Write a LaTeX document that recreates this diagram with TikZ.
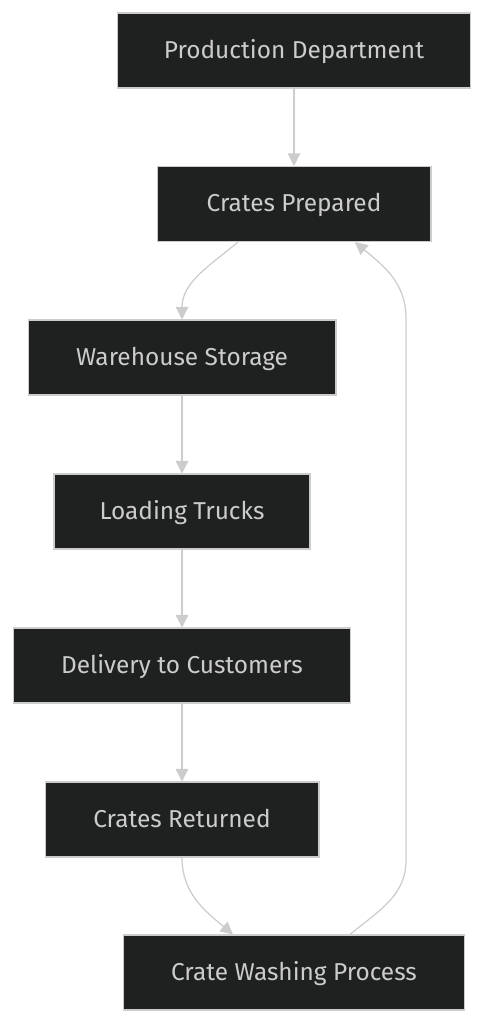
\documentclass[tikz,border=0pt]{standalone}
\usepackage{fontspec}
\setmainfont{Fira Sans}
\usepackage{tikz}
\usetikzlibrary{arrows.meta,positioning}
\definecolor{boxc}{HTML}{1F2020}
\definecolor{linec}{HTML}{CCCCCC}
\definecolor{txtc}{HTML}{CCCCCC}

\begin{document}
\begin{tikzpicture}[x=0.02cm,y=-0.02cm,
  stagebox/.style={draw=linec,fill=boxc,text=txtc,line width=0.6pt,minimum height=1.5cm,
    font=\fontsize{13.9}{16}\selectfont,inner sep=0pt,text height=1.9ex,text depth=0.2ex},
  flow/.style={draw=linec,line width=0.7pt,-{Triangle[length=0.25cm,width=0.25cm]}}]
\useasboundingbox (0,0) rectangle (484,1024);
% --- main chain ---
\node[stagebox,minimum width=7.08cm] (prod) at (294,50.5) {Production Department};
\node[stagebox,minimum width=5.48cm] (prep) at (294,204) {Crates Prepared};
\node[stagebox,minimum width=6.16cm] (store) at (182,357.5) {Warehouse Storage};
\node[stagebox,minimum width=5.12cm] (load) at (182,511.5) {Loading Trucks};
\node[stagebox,minimum width=6.76cm] (deliv) at (182,665.5) {Delivery to Customers};
\node[stagebox,minimum width=5.48cm] (ret) at (182,819.5) {Crates Returned};
\node[stagebox,minimum width=6.84cm] (wash) at (294,972.5) {Crate Washing Process};
% --- return loop waypoints ---
\coordinate (loopb) at (406,860);
\coordinate (loopt) at (406,318);
% --- connectors ---
\draw[flow] (prod) -- (prep);
\draw[flow] ([xshift=-1.12cm]prep.south) to[out=-140,in=90] (store.north);
\draw[flow] (store) -- (load);
\draw[flow] (load) -- (deliv);
\draw[flow] (deliv) -- (ret);
\draw[flow] (ret.south) to[out=-90,in=140] ([xshift=-1.22cm]wash.north);
\draw[flow] ([xshift=1.12cm]wash.north) to[out=40,in=-90] (loopb) -- (loopt)
  to[out=90,in=-40] ([xshift=1.22cm]prep.south);
\end{tikzpicture}
\end{document}
